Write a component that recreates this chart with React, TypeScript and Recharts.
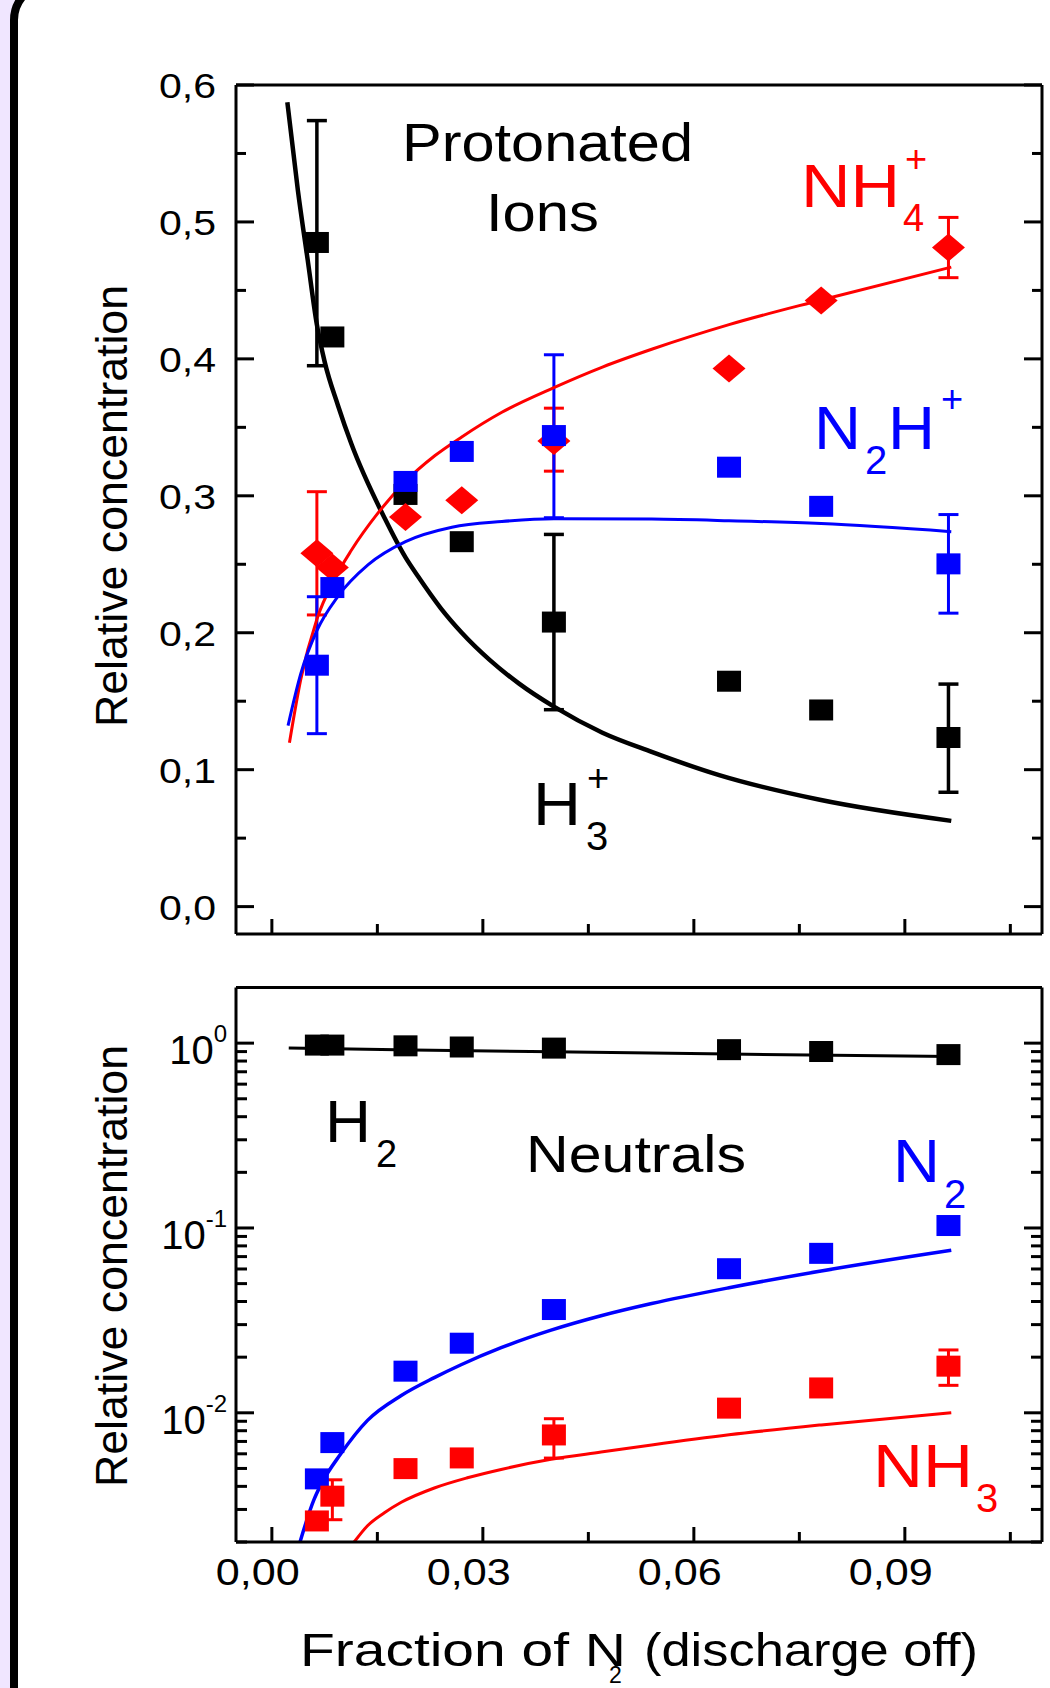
import React from "react";
import { ComposedChart, Scatter, Line, XAxis, YAxis, ErrorBar } from "recharts";

const FONT = "'Liberation Sans', Arial, sans-serif";
const RED = "#ff0000";
const BLUE = "#0000ff";
const BLACK = "#000000";

// fraction of N2 (discharge off) for the measured points
const xMeas = [0.0064, 0.0086, 0.019, 0.027, 0.0401, 0.065, 0.0781, 0.0962];

// protonated ions
const h3Ions = [0.485, 0.416, 0.301, 0.2665, 0.2078, 0.1646, 0.1436, 0.1235];
const h3Err = [[0.09, 0.089], null, null, null, [0.064, 0.064], null, null, [0.04, 0.039]];
const nh4Ions = [0.258, 0.2476, 0.2845, 0.2967, 0.34, 0.393, 0.4426, 0.4813];
const nh4Err = [[0.045, 0.045], null, null, null, [0.022, 0.024], null, null, [0.022, 0.022]];
const n2hIons = [0.1763, 0.233, 0.3105, 0.3324, 0.344, 0.3209, 0.2923, 0.2503];
const n2hErr = [[0.05, 0.05], null, null, null, [0.06, 0.059], null, null, [0.036, 0.036]];

// model curves, protonated ions
const h3FitX = [0.0022, 0.0037, 0.0051, 0.0064, 0.0075, 0.0094, 0.0113, 0.0161, 0.019, 0.0208, 0.024, 0.027, 0.031, 0.0351, 0.0401, 0.047, 0.054, 0.0636, 0.0779, 0.0966];
const h3FitY = [0.5874, 0.523, 0.472, 0.425, 0.398, 0.366, 0.338, 0.283, 0.255, 0.241, 0.218, 0.2, 0.18, 0.163, 0.146, 0.127, 0.113, 0.096, 0.078, 0.0626];
const nh4FitX = [0.0025, 0.0041, 0.0064, 0.0089, 0.0113, 0.0151, 0.019, 0.0232, 0.027, 0.0327, 0.0401, 0.047, 0.054, 0.065, 0.0781, 0.0966];
const nh4FitY = [0.1197, 0.1658, 0.2099, 0.2392, 0.2602, 0.2875, 0.3105, 0.3294, 0.343, 0.361, 0.379, 0.394, 0.407, 0.425, 0.443, 0.467];
const n2hFitX = [0.0023, 0.0041, 0.0064, 0.0094, 0.0137, 0.019, 0.0256, 0.0327, 0.0401, 0.054, 0.065, 0.0781, 0.0966];
const n2hFitY = [0.1322, 0.17, 0.2015, 0.2266, 0.2497, 0.2665, 0.277, 0.2812, 0.2833, 0.283, 0.2818, 0.2797, 0.2738];

// neutrals
const h2Neut = [0.976, 0.976, 0.967, 0.953, 0.94, 0.922, 0.901, 0.867];
const n2Neut = [0.00439, 0.0069, 0.0168, 0.0238, 0.0362, 0.0602, 0.0729, 0.1031];
const nh3Neut = [0.0026, 0.00354, 0.00499, 0.0057, 0.00759, 0.0106, 0.01363, 0.01788];
const nh3Err = [null, [0.0009, 0.0008], null, null, [0.0019, 0.0017], null, null, [0.0038, 0.004]];

const h2FitX = [0.0024, 0.02, 0.04, 0.065, 0.0966];
const h2FitY = [0.94, 0.918, 0.897, 0.873, 0.846];
const n2FitX = [0.004, 0.006, 0.007, 0.0098, 0.0136, 0.0184, 0.0231, 0.0269, 0.0326, 0.0397, 0.0468, 0.054, 0.065, 0.0781, 0.0966];
const n2FitY = [0.002, 0.0034, 0.0041, 0.006, 0.0091, 0.0124, 0.0155, 0.0182, 0.0225, 0.028, 0.0335, 0.039, 0.0475, 0.0585, 0.0757];
const nh3FitX = [0.0117, 0.0136, 0.016, 0.0184, 0.0231, 0.0278, 0.0326, 0.0397, 0.0468, 0.054, 0.065, 0.0781, 0.0966];
const nh3FitY = [0.002, 0.00245, 0.00288, 0.00328, 0.00392, 0.00445, 0.00494, 0.0056, 0.00613, 0.0067, 0.0076, 0.0086, 0.01];

// axes
const xDomain = [-0.0051, 0.1095];
const xTicks = [0, 0.015, 0.03, 0.045, 0.06, 0.075, 0.09, 0.105];
const xMajor = [0, 0.03, 0.06, 0.09];
const ionDomain = [-0.02, 0.6];
const ionTicks = [0, 0.05, 0.1, 0.15, 0.2, 0.25, 0.3, 0.35, 0.4, 0.45, 0.5, 0.55, 0.6];
const ionMajor = [0, 0.1, 0.2, 0.3, 0.4, 0.5, 0.6];
const neutDomain = [0.002, 2];
const neutTicks = [
  0.002, 0.003, 0.004, 0.005, 0.006, 0.007, 0.008, 0.009,
  0.01, 0.02, 0.03, 0.04, 0.05, 0.06, 0.07, 0.08, 0.09,
  0.1, 0.2, 0.3, 0.4, 0.5, 0.6, 0.7, 0.8, 0.9, 1, 2,
];
const neutMajor = [0.01, 0.1, 1];
const neutExp: Record<string, string> = { "0.01": "-2", "0.1": "-1", "1": "0" };

const pts = (ys: number[], errs?: (number[] | null)[]) =>
  xMeas.map((x, i) => ({ x, y: ys[i], err: (errs && errs[i]) || [0, 0] }));
const fit = (xs: number[], ys: number[]) => xs.map((x, i) => ({ x, y: ys[i] }));

const near = (list: number[], v: number) => list.some((m) => Math.abs(m - v) < 1e-9);

const square = (color: string) => (p: any) =>
  <rect x={p.cx - 12} y={p.cy - 10.5} width={24} height={21} fill={color} />;
const diamond = (color: string) => (p: any) =>
  <polygon points={`${p.cx - 16.5},${p.cy} ${p.cx},${p.cy - 14} ${p.cx + 16.5},${p.cy} ${p.cx},${p.cy + 14}`} fill={color} />;

// ticks are drawn inwards, labels outside
const XTick = (p: any, label: boolean) => {
  const major = near(xMajor, p.payload.value);
  return (
    <g>
      <line x1={p.x} x2={p.x} y1={p.y} y2={p.y - (major ? 15 : 10)} stroke={BLACK} strokeWidth={3} />
      {label && major && (
        <text x={p.x - 14} y={p.y + 43} textAnchor="middle" fontSize={37} fontFamily={FONT}
          textLength={84} lengthAdjust="spacingAndGlyphs">
          {p.payload.value.toFixed(2).replace(".", ",")}
        </text>
      )}
    </g>
  );
};

const IonTick = (p: any, side: "left" | "right") => {
  const major = near(ionMajor, p.payload.value);
  const len = major ? 18 : 10;
  const dir = side === "left" ? 1 : -1;
  return (
    <g>
      <line x1={p.x} x2={p.x + dir * len} y1={p.y} y2={p.y} stroke={BLACK} strokeWidth={3} />
      {side === "left" && major && (
        <text x={p.x - 20} y={p.y + 13} textAnchor="end" fontSize={35} fontFamily={FONT}
          textLength={57} lengthAdjust="spacingAndGlyphs">
          {p.payload.value.toFixed(1).replace(".", ",")}
        </text>
      )}
    </g>
  );
};

const NeutTick = (p: any, side: "left" | "right") => {
  const major = near(neutMajor, p.payload.value);
  const len = major ? 18 : 11;
  const dir = side === "left" ? 1 : -1;
  const exp = neutExp[String(p.payload.value)];
  return (
    <g>
      <line x1={p.x} x2={p.x + dir * len} y1={p.y} y2={p.y} stroke={BLACK} strokeWidth={3} />
      {side === "left" && major && (
        <text x={p.x - 9} y={p.y + 21} textAnchor="end" fontSize={40} fontFamily={FONT}>
          10<tspan dy={-22} fontSize={24}>{exp}</tspan>
        </text>
      )}
    </g>
  );
};

const axisLine = { stroke: BLACK, strokeWidth: 3 };

const Txt = ({ x, y, size, fill = BLACK, w, children, anchor = "start", rotate }: any) => (
  <text x={x} y={y} fontSize={size} fill={fill} fontFamily={FONT} textAnchor={anchor}
    textLength={w} lengthAdjust={w ? "spacingAndGlyphs" : undefined}
    transform={rotate ? `rotate(-90 ${x} ${y})` : undefined}>
    {children}
  </text>
);

// plot box of the upper panel: x 236..1042, y 85..934
const IonsChart = () => (
  <ComposedChart width={1050} height={960} margin={{ top: 84, right: 0, bottom: 0, left: 176 }}>
    <XAxis xAxisId="b" dataKey="x" type="number" domain={xDomain} ticks={xTicks} interval={0}
      allowDataOverflow height={26} tickSize={0} tickMargin={0} axisLine={axisLine} tickLine={false}
      tick={(p: any) => XTick(p, false)} />
    <XAxis xAxisId="t" orientation="top" dataKey="x" type="number" domain={xDomain} allowDataOverflow
      height={1} axisLine={axisLine} tick={false} tickLine={false} />
    <YAxis yAxisId="l" dataKey="y" type="number" domain={ionDomain} ticks={ionTicks} interval={0}
      allowDataOverflow width={60} tickSize={0} tickMargin={0} axisLine={axisLine} tickLine={false}
      tick={(p: any) => IonTick(p, "left")} />
    <YAxis yAxisId="r" orientation="right" dataKey="y" type="number" domain={ionDomain} ticks={ionTicks}
      interval={0} allowDataOverflow width={8} tickSize={0} tickMargin={0} axisLine={axisLine}
      tickLine={false} tick={(p: any) => IonTick(p, "right")} />

    <Scatter xAxisId="b" yAxisId="l" data={pts(h3Ions, h3Err)} dataKey="y" shape={square(BLACK)} isAnimationActive={false}>
      <ErrorBar dataKey="err" direction="y" width={10} stroke={BLACK} strokeWidth={3.5} isAnimationActive={false} />
    </Scatter>
    <Scatter xAxisId="b" yAxisId="l" data={pts(nh4Ions, nh4Err)} dataKey="y" shape={diamond(RED)} isAnimationActive={false}>
      <ErrorBar dataKey="err" direction="y" width={10} stroke={RED} strokeWidth={3} isAnimationActive={false} />
    </Scatter>
    <Scatter xAxisId="b" yAxisId="l" data={pts(n2hIons, n2hErr)} dataKey="y" shape={square(BLUE)} isAnimationActive={false}>
      <ErrorBar dataKey="err" direction="y" width={10} stroke={BLUE} strokeWidth={3} isAnimationActive={false} />
    </Scatter>

    <Line xAxisId="b" yAxisId="l" data={fit(h3FitX, h3FitY)} dataKey="y" type="monotone" stroke={BLACK}
      strokeWidth={4.5} dot={false} activeDot={false} isAnimationActive={false} />
    <Line xAxisId="b" yAxisId="l" data={fit(nh4FitX, nh4FitY)} dataKey="y" type="monotone" stroke={RED}
      strokeWidth={3} dot={false} activeDot={false} isAnimationActive={false} />
    <Line xAxisId="b" yAxisId="l" data={fit(n2hFitX, n2hFitY)} dataKey="y" type="monotone" stroke={BLUE}
      strokeWidth={3} dot={false} activeDot={false} isAnimationActive={false} />
  </ComposedChart>
);

// plot box of the lower panel (chart starts at page y 960): y 987.5..1542
const NeutralsChart = () => (
  <ComposedChart width={1050} height={728} margin={{ top: 26.5, right: 0, bottom: 0, left: 176 }}>
    <XAxis xAxisId="b" dataKey="x" type="number" domain={xDomain} ticks={xTicks} interval={0}
      allowDataOverflow height={146} tickSize={0} tickMargin={0} axisLine={axisLine} tickLine={false}
      tick={(p: any) => XTick(p, true)} />
    <XAxis xAxisId="t" orientation="top" dataKey="x" type="number" domain={xDomain} allowDataOverflow
      height={1} axisLine={axisLine} tick={false} tickLine={false} />
    <YAxis yAxisId="l" dataKey="y" type="number" scale="log" domain={neutDomain} ticks={neutTicks}
      interval={0} allowDataOverflow width={60} tickSize={0} tickMargin={0} axisLine={axisLine}
      tickLine={false} tick={(p: any) => NeutTick(p, "left")} />
    <YAxis yAxisId="r" orientation="right" dataKey="y" type="number" scale="log" domain={neutDomain}
      ticks={neutTicks} interval={0} allowDataOverflow width={8} tickSize={0} tickMargin={0}
      axisLine={axisLine} tickLine={false} tick={(p: any) => NeutTick(p, "right")} />

    <Line xAxisId="b" yAxisId="l" data={fit(h2FitX, h2FitY)} dataKey="y" type="monotone" stroke={BLACK}
      strokeWidth={3} dot={false} activeDot={false} isAnimationActive={false} />
    <Scatter xAxisId="b" yAxisId="l" data={pts(h2Neut)} dataKey="y" shape={square(BLACK)} isAnimationActive={false} />
    <Scatter xAxisId="b" yAxisId="l" data={pts(n2Neut)} dataKey="y" shape={square(BLUE)} isAnimationActive={false} />
    <Scatter xAxisId="b" yAxisId="l" data={pts(nh3Neut, nh3Err)} dataKey="y" shape={square(RED)} isAnimationActive={false}>
      <ErrorBar dataKey="err" direction="y" width={10} stroke={RED} strokeWidth={3} isAnimationActive={false} />
    </Scatter>
    <Line xAxisId="b" yAxisId="l" data={fit(n2FitX, n2FitY)} dataKey="y" type="monotone" stroke={BLUE}
      strokeWidth={3.5} dot={false} activeDot={false} isAnimationActive={false} />
    <Line xAxisId="b" yAxisId="l" data={fit(nh3FitX, nh3FitY)} dataKey="y" type="monotone" stroke={RED}
      strokeWidth={3} dot={false} activeDot={false} isAnimationActive={false} />
  </ComposedChart>
);

const Labels = () => (
  <svg width={1050} height={1688} style={{ position: "absolute", left: 0, top: 0, pointerEvents: "none" }}>
    <Txt x={402} y={161} size={54} w={291}>Protonated</Txt>
    <Txt x={486} y={231} size={54} w={113}>Ions</Txt>

    <Txt x={801} y={207} size={62} w={99} fill={RED}>NH</Txt>
    <Txt x={903} y={231} size={38} fill={RED}>4</Txt>
    <Txt x={905} y={172} size={38} fill={RED}>+</Txt>

    <Txt x={814} y={449} size={61} w={47} fill={BLUE}>N</Txt>
    <Txt x={865} y={474} size={40} fill={BLUE}>2</Txt>
    <Txt x={888} y={449} size={61} w={47} fill={BLUE}>H</Txt>
    <Txt x={941} y={412} size={38} fill={BLUE}>+</Txt>

    <Txt x={533} y={825} size={61} w={48}>H</Txt>
    <Txt x={586} y={850} size={40}>3</Txt>
    <Txt x={587} y={791} size={38}>+</Txt>

    <Txt x={325} y={1142} size={59} w={46}>H</Txt>
    <Txt x={376} y={1167} size={38}>2</Txt>
    <Txt x={526} y={1172} size={52} w={220}>Neutrals</Txt>

    <Txt x={893} y={1182} size={61} w={47} fill={BLUE}>N</Txt>
    <Txt x={944} y={1208} size={40} fill={BLUE}>2</Txt>

    <Txt x={873} y={1487} size={61} w={100} fill={RED}>NH</Txt>
    <Txt x={976} y={1512} size={40} fill={RED}>3</Txt>

    <Txt x={127} y={506} size={44} w={442} anchor="middle" rotate>Relative concentration</Txt>
    <Txt x={127} y={1266} size={44} w={442} anchor="middle" rotate>Relative concentration</Txt>

    <Txt x={300} y={1666} size={47} w={326}>Fraction of N</Txt>
    <Txt x={609} y={1683} size={23}>2</Txt>
    <Txt x={644} y={1666} size={47} w={334}>(discharge off)</Txt>
  </svg>
);

export default function App() {
  return (
    <div style={{ position: "absolute", left: 0, top: 0, width: 1050, height: 1688, overflow: "hidden", background: "#f0e6ff" }}>
      <div style={{
        position: "absolute", left: 10, top: -20, width: 1100, height: 1800, boxSizing: "border-box",
        border: "8px solid #000", borderRadius: 40, background: "#fff",
      }} />
      <div style={{ position: "absolute", left: 0, top: 0 }}>
        <IonsChart />
      </div>
      <div style={{ position: "absolute", left: 0, top: 960 }}>
        <NeutralsChart />
      </div>
      <Labels />
    </div>
  );
}
